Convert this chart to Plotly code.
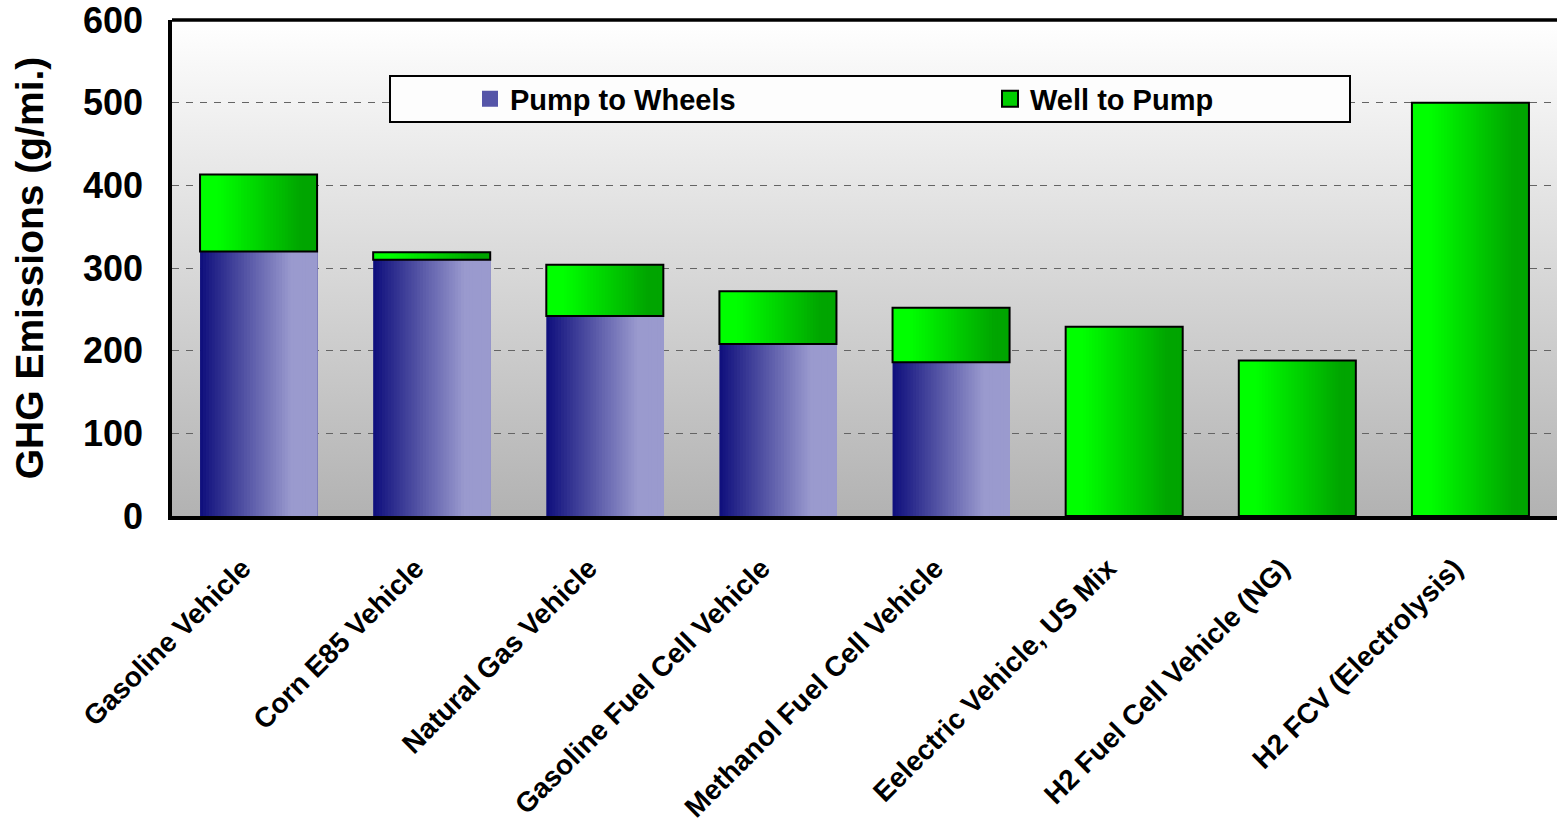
import plotly.graph_objects as go

categories = ["Gasoline Vehicle", "Corn E85 Vehicle", "Natural Gas Vehicle",
              "Gasoline Fuel Cell Vehicle", "Methanol Fuel Cell Vehicle",
              "Eelectric Vehicle, US Mix", "H2 Fuel Cell Vehicle (NG)",
              "H2 FCV (Electrolysis)"]
pump_to_wheels = [320, 310, 242, 208, 186, 0, 0, 0]
well_to_pump = [93, 9, 62, 64, 66, 229, 188, 500]
y_ticks = [0, 100, 200, 300, 400, 500, 600]

FONT = "Liberation Sans, Arial, sans-serif"
BAR_W = 0.676
N = 40


def lerp(c0, c1, t):
    return tuple(round(a + (b - a) * t) for a, b in zip(c0, c1))


def ptw_color(t):
    navy, lav = (14, 14, 124), (154, 154, 206)
    tt = min(t / 0.78, 1.0)
    return "rgb(%d,%d,%d)" % lerp(navy, lav, tt)


def wtp_color(t):
    bright, dark = (0, 255, 0), (0, 165, 0)
    tt = min(max((t - 0.15) / 0.72, 0.0), 1.0)
    return "rgb(%d,%d,%d)" % lerp(bright, dark, tt)


fig = go.Figure()
step = BAR_W / N
for k in range(N):
    fig.add_trace(go.Bar(
        x=categories, y=pump_to_wheels, base=0,
        width=BAR_W - k * step, offset=-BAR_W / 2 + k * step,
        marker=dict(color=ptw_color((k + 0.5) / N), line=dict(width=0)),
        showlegend=False, hoverinfo="skip"))
for k in range(N):
    fig.add_trace(go.Bar(
        x=categories, y=well_to_pump, base=pump_to_wheels,
        width=BAR_W - k * step, offset=-BAR_W / 2 + k * step,
        marker=dict(color=wtp_color((k + 0.5) / N), line=dict(width=0)),
        showlegend=False, hoverinfo="skip"))
fig.add_trace(go.Bar(
    x=categories, y=well_to_pump, base=pump_to_wheels,
    width=BAR_W, offset=-BAR_W / 2,
    marker=dict(color="rgba(0,0,0,0)", line=dict(color="black", width=2)),
    showlegend=False, hoverinfo="skip"))
# legend entries
fig.add_trace(go.Scatter(x=[categories[0]], y=[None], name="Pump to Wheels", mode="markers",
                         marker=dict(symbol="square", size=16, color="rgb(85,85,168)",
                                     line=dict(width=0))))
fig.add_trace(go.Scatter(x=[categories[0]], y=[None], name="Well to Pump", mode="markers",
                         marker=dict(symbol="square", size=16, color="rgb(0,205,0)",
                                     line=dict(color="black", width=2))))

L, T, B = 172, 20, 313
W, H = 1557, 829
pw = W - L
ph = H - T - B


def px_x(p):
    return (p - L) / pw


def px_y(p):
    return (H - B - p) / ph


bg_svg = ("data:image/svg+xml;utf8,<svg xmlns='http://www.w3.org/2000/svg' width='100' height='100' "
          "preserveAspectRatio='none'><defs><linearGradient id='g' x1='0' y1='0' x2='0' y2='1'>"
          "<stop offset='0' stop-color='%23ffffff'/><stop offset='1' stop-color='%23b2b2b2'/>"
          "</linearGradient></defs><rect width='100' height='100' fill='url(%23g)'/></svg>")

fig.update_layout(
    width=W, height=H,
    margin=dict(l=L, r=0, t=T, b=B, pad=0, autoexpand=False),
    paper_bgcolor="white",
    plot_bgcolor="rgba(0,0,0,0)",
    barmode="overlay",
    font=dict(family=FONT, color="black"),
    images=[dict(source=bg_svg, xref="paper", yref="paper", x=0, y=1,
                 sizex=1, sizey=1, xanchor="left", yanchor="top",
                 sizing="stretch", layer="below")],
    legend=dict(orientation="h", x=px_x(470), y=px_y(99), xanchor="left", yanchor="middle",
                bgcolor="rgba(0,0,0,0)", borderwidth=0,
                font=dict(family=FONT, size=29, color="black", weight="bold"),
                entrywidth=475, entrywidthmode="pixels", traceorder="normal"),
    shapes=[
        dict(type="rect", xref="paper", yref="paper",
             x0=px_x(390), x1=px_x(1350), y0=px_y(122), y1=px_y(76),
             fillcolor="rgb(253,253,253)", line=dict(color="black", width=2), layer="above"),
        dict(type="line", xref="paper", yref="paper", x0=0, x1=1, y0=1, y1=1,
             line=dict(color="black", width=3.5), layer="above"),
    ],
    xaxis=dict(
        type="category", range=[-0.5, 7.5], automargin=False,
        showline=True, linecolor="black", linewidth=3.5,
        showgrid=False, ticks="outside", ticklen=21, tickcolor="rgba(0,0,0,0)",
        tickangle=-45, ticklabelshift=-16,
        tickfont=dict(family=FONT, size=28, color="black", weight="bold"),
    ),
    yaxis=dict(
        range=[0, 600], tickvals=y_ticks, automargin=False,
        showline=True, linecolor="black", linewidth=3.5,
        showgrid=True, gridcolor="rgb(100,100,100)", gridwidth=1.4, griddash="7px,7px",
        zeroline=False, ticklabeloverflow="allow",
        ticks="outside", ticklen=18, tickcolor="rgba(0,0,0,0)",
        tickfont=dict(family=FONT, size=36, color="black", weight="bold"),
        title=dict(text="GHG Emissions (g/mi.)", standoff=28,
                   font=dict(family=FONT, size=39, color="black", weight="bold")),
    ),
)

fig.write_html("out.html", config={"displayModeBar": False},
               post_script="document.body.style.margin='0';")
